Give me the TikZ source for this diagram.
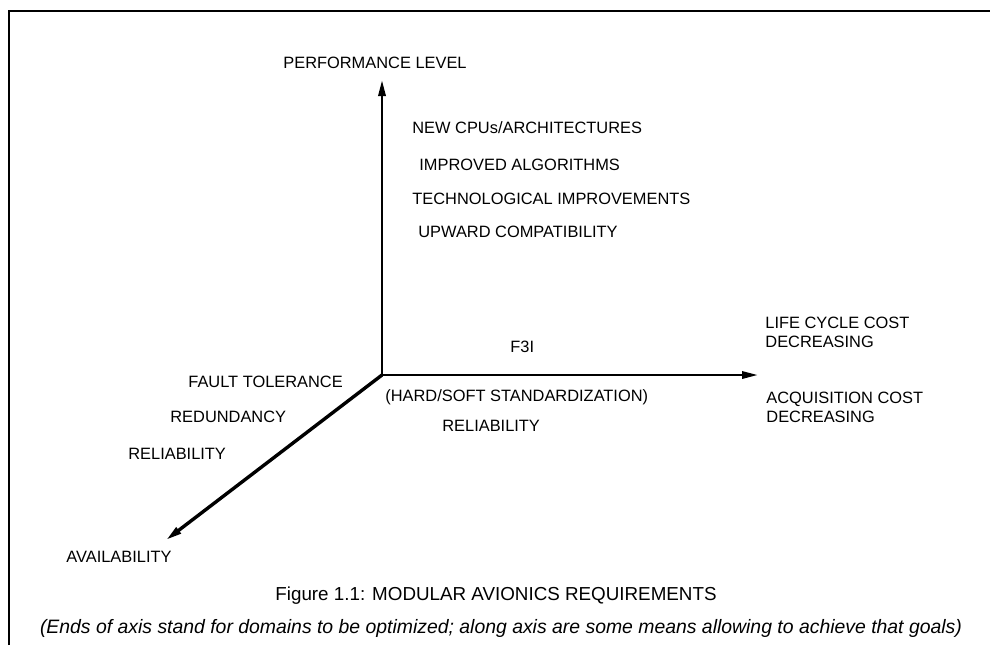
\documentclass[tikz,border=0pt]{standalone}
\usepackage{fontspec}
\setmainfont{Liberation Sans}
\usepackage{tikz}
\usetikzlibrary{arrows.meta,positioning}

\begin{document}
\begin{tikzpicture}[x=0.5pt, y=-0.5pt,
  lbl/.style={font=\fontsize{8.2}{9.5}\selectfont, anchor=west, inner sep=0pt, align=left},
  axisline/.style={line width=1.3pt, -{Triangle[length=8pt, width=3.6pt]}}]
\useasboundingbox (0,0) rectangle (990,645);
% frame (top and left edge)
\draw[line width=1pt] (9,645) -- (9,11) -- (990,11);
% axes
\coordinate (o) at (382,375);
\coordinate (perf) at (382,80);
\coordinate (cost) at (758,375);
\coordinate (avail) at (166,540);
\draw[axisline] (o) -- (perf);
\draw[axisline] (o) -- (cost);
\draw[axisline, line width=1.7pt] (o) -- (avail);
% axis ends
\node[lbl] (perflvl) at (283,63) {PERFORMANCE LEVEL};
\node[lbl] (lcc) at (765,332) {LIFE CYCLE COST\\DECREASING};
\node[lbl] (acq) at (766,407) {ACQUISITION COST\\DECREASING};
\node[lbl] (availlbl) at (66,557) {AVAILABILITY};
% means along the vertical axis
\node[lbl] (cpu) at (412,128) {NEW CPUs/ARCHITECTURES};
\node[lbl] (algo) at (419,165) {IMPROVED ALGORITHMS};
\node[lbl] (techno) at (412,199) {TECHNOLOGICAL IMPROVEMENTS};
\node[lbl] (upward) at (418,232) {UPWARD COMPATIBILITY};
% means along the cost axis
\node[lbl] (f3i) at (510,347) {F3I};
\node[lbl] (stdz) at (385,397) {(HARD/SOFT STANDARDIZATION)};
\node[lbl] (relcost) at (442,426) {RELIABILITY};
% means along the availability axis
\node[lbl] (fault) at (188,382) {FAULT TOLERANCE};
\node[lbl] (redund) at (170,417) {REDUNDANCY};
\node[lbl] (relavail) at (128,454) {RELIABILITY};
% caption
\node[font=\fontsize{9.4}{11}\selectfont, inner sep=0pt] (caption) at (496,596) {Figure 1.1: MODULAR AVIONICS REQUIREMENTS};
\node[font=\fontsize{9.7}{11}\selectfont\itshape, inner sep=0pt] (note) at (501,628) {(Ends of axis stand for domains to be optimized; along axis are some means allowing to achieve that goals)};
\end{tikzpicture}
\end{document}
